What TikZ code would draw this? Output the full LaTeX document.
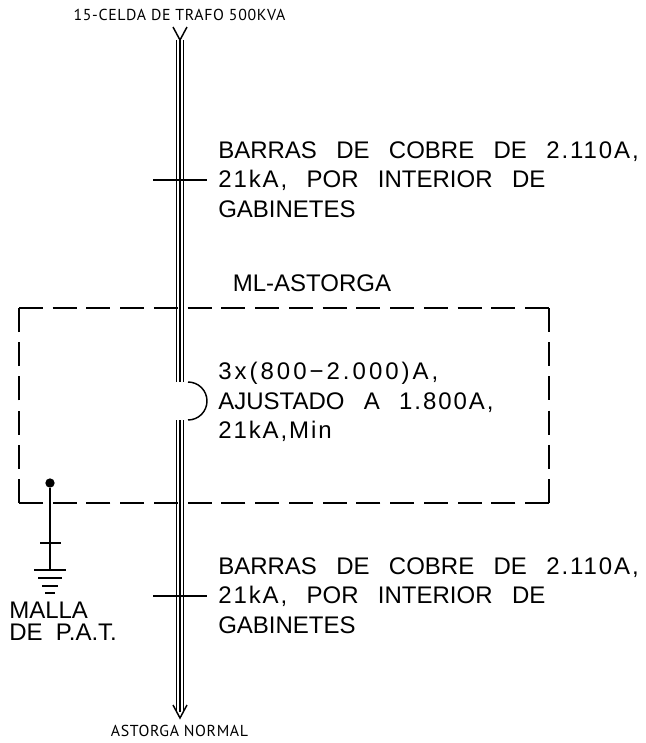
\documentclass[tikz,border=0pt]{standalone}
\usepackage{fontspec}
\setmainfont{Liberation Sans}
\newfontfamily\notefont[WordSpace=2.9]{Liberation Sans}
\newfontfamily\numfont[WordSpace=2.9,LetterSpace=8]{Liberation Sans}
\newfontfamily\ratingfont[WordSpace=2.9,LetterSpace=12.5]{Liberation Sans}
\newfontfamily\tagfont[LetterSpace=4]{PT Sans}
\usetikzlibrary{positioning, calc}

\begin{document}
\begin{tikzpicture}[
    x=0.75pt, y=-0.75pt,
    note/.style={anchor=north west, align=left, inner sep=0pt, font=\fontsize{18}{22.2}\selectfont\notefont},
    tag/.style={inner sep=0pt, font=\fontsize{11.9}{14}\selectfont\tagfont},
    line/.style={line width=1.1pt},
    panelH/.style={line width=1.1pt, dash pattern=on 18pt off 7.3pt},
    panelV/.style={line width=1.1pt, dash pattern=on 18pt off 7.65pt}
]
\useasboundingbox (0,0) rectangle (646,743);

% Labels
\node[tag] (source) at (179.5,15) {15-CELDA DE TRAFO 500KVA};
\node[tag] (load) at (179.5,731) {ASTORGA NORMAL};
\node[note] (barsTop) at (218,141) {BARRAS DE COBRE DE {\numfont 2.110A,}\\{\numfont 21kA,} POR INTERIOR DE\\GABINETES};
\node[note] (barsBottom) at (218,557) {BARRAS DE COBRE DE {\numfont 2.110A,}\\{\numfont 21kA,} POR INTERIOR DE\\GABINETES};
\node[note] (breakerText) at (218,362) {{\ratingfont 3x(800−2.000)A,}\\AJUSTADO A {\numfont 1.800A,}\\{\numfont 21kA,Min}};
\node[inner sep=0pt, font=\fontsize{18}{22}\selectfont] (panelName) at (312,283) {ML-ASTORGA};
\node[anchor=north west, align=left, inner sep=0pt, font=\fontsize{18}{16.5}\selectfont] (pat) at (9,602) {MALLA\\DE\ \ P.A.T.};

% Points
\coordinate (busIn) at (180,40);
\coordinate (busOpen) at (180,382);
\coordinate (busClose) at (180,420);
\coordinate (busOut) at (180,718);
\coordinate (panelA) at (19,308);
\coordinate (panelB) at (549,308);
\coordinate (panelC) at (549,503);
\coordinate (panelD) at (19,503);
\node[circle, fill, inner sep=0pt, minimum size=7pt] (earthDot) at (50,483) {};
\coordinate (earthBar) at (50,570);

% Panel
\draw[panelH] (panelA) -- (panelB);
\draw[panelV] (panelB) -- (panelC);
\draw[panelH] (panelC) -- (panelD);
\draw[panelV] (panelD) -- (panelA);

% Bus
\foreach \dx in {-3.3,0,3.3} {
    \draw[line] ($(busIn)+(\dx,0)$) -- ($(busOpen)+(\dx,0)$);
    \draw[line] ($(busClose)+(\dx,0)$) -- ($(busOut)+(\dx,-6)$);
}
\draw[line] ($(busIn)+(-7,-13)$) -- (busIn) -- ($(busIn)+(7,-13)$);
\draw[line] ($(busOut)+(-7,-13)$) -- (busOut) -- ($(busOut)+(7,-13)$);

% Breaker
\draw[line] ($(busOpen)+(8,0)$) arc[start angle=-90, end angle=90, radius=19];

% Bar ticks
\draw[line] (153,180) -- (207,180);
\draw[line] (153,596) -- (207,596);

% Earth
\draw[line] (earthDot) -- (earthBar);
\draw[line] ($(earthDot)+(-10,60)$) -- ($(earthDot)+(11,60)$);
\draw[line] ($(earthBar)+(-16,0)$) -- ($(earthBar)+(16,0)$);
\draw[line] ($(earthBar)+(-12,8)$) -- ($(earthBar)+(12,8)$);
\draw[line] ($(earthBar)+(-8,16)$) -- ($(earthBar)+(8,16)$);
\draw[line] ($(earthBar)+(-5,23)$) -- ($(earthBar)+(5,23)$);

\end{tikzpicture}
\end{document}
